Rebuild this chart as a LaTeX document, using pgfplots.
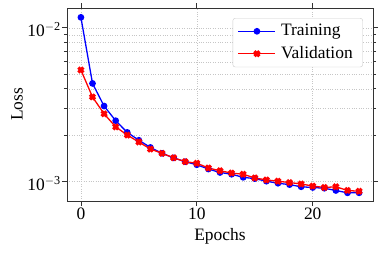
\documentclass[border=0pt]{standalone}
\usepackage{fontspec}
\setmainfont{Liberation Serif}
\usepackage{pgfplots}
\pgfplotsset{compat=1.18}
\pgfdeclareplotmark{Xf}{%
  \pgftransformrotate{45}%
  \pgfpathmoveto{\pgfqpoint{0.38\pgfplotmarksize}{1.15\pgfplotmarksize}}%
  \pgfpathlineto{\pgfqpoint{0.38\pgfplotmarksize}{0.38\pgfplotmarksize}}%
  \pgfpathlineto{\pgfqpoint{1.15\pgfplotmarksize}{0.38\pgfplotmarksize}}%
  \pgfpathlineto{\pgfqpoint{1.15\pgfplotmarksize}{-0.38\pgfplotmarksize}}%
  \pgfpathlineto{\pgfqpoint{0.38\pgfplotmarksize}{-0.38\pgfplotmarksize}}%
  \pgfpathlineto{\pgfqpoint{0.38\pgfplotmarksize}{-1.15\pgfplotmarksize}}%
  \pgfpathlineto{\pgfqpoint{-0.38\pgfplotmarksize}{-1.15\pgfplotmarksize}}%
  \pgfpathlineto{\pgfqpoint{-0.38\pgfplotmarksize}{-0.38\pgfplotmarksize}}%
  \pgfpathlineto{\pgfqpoint{-1.15\pgfplotmarksize}{-0.38\pgfplotmarksize}}%
  \pgfpathlineto{\pgfqpoint{-1.15\pgfplotmarksize}{0.38\pgfplotmarksize}}%
  \pgfpathlineto{\pgfqpoint{-0.38\pgfplotmarksize}{0.38\pgfplotmarksize}}%
  \pgfpathlineto{\pgfqpoint{-0.38\pgfplotmarksize}{1.15\pgfplotmarksize}}%
  \pgfpathclose
  \pgfusepathqfillstroke}
\begin{document}
\fontsize{17.5}{21}\selectfont
\begin{tikzpicture}
\begin{axis}[
  scale only axis, width=306bp, height=193bp,
  ymode=log,
  xmin=-1.2, xmax=25.2,
  ymin=0.000743, ymax=0.01346,
  xtick={0,10,20},
  xticklabels={0,10,20},
  ytick={0.001,0.01},
  yticklabels={10\textsuperscript{$-$3},10\textsuperscript{$-$2}},
  yticklabel style={inner sep=1bp, yshift=-2bp},
  xticklabel style={inner sep=1.5bp},
  tick align=outside,
  major tick length=5bp, minor tick length=3bp,
  tick style={black!80, line width=0.8pt},
  axis line style={black!80, line width=0.9pt},
  grid=both,
  major grid style={gray!45, dotted, line width=0.6pt},
  minor grid style={gray!45, dotted, line width=0.6pt},
  xminorgrids=false,
  xlabel={Epochs}, ylabel={Loss},
  xlabel style={at={(rel axis cs:0.5,0)}, anchor=center, yshift=-35bp},
  ylabel style={at={(rel axis cs:0,0.5)}, anchor=center, yshift=50bp},
  legend style={at={(0.967,0.948)}, anchor=north east, draw=gray!40, rounded corners=2.5pt,
    row sep=4pt, inner xsep=5pt, inner ysep=4pt,
    nodes={inner xsep=5pt}},
  legend cell align=left,
  legend image code/.code={\draw[mark repeat=2,mark phase=2] plot coordinates {(0bp,0bp)(18.5bp,0bp)(37bp,0bp)};},
]
\addplot[blue, line width=1.3pt, mark=*, mark size=2.7pt, mark options={solid, fill=blue}] coordinates {
(0,0.0117) (1,0.00434) (2,0.00309) (3,0.00248) (4,0.00208) (5,0.00185) (6,0.00166)
(7,0.00152) (8,0.00142) (9,0.00134) (10,0.00128) (11,0.00120) (12,0.00114) (13,0.00111)
(14,0.00106) (15,0.00104) (16,0.00100) (17,0.00097) (18,0.00095) (19,0.00092) (20,0.00091)
(21,0.00090) (22,0.00087) (23,0.00084) (24,0.00084)};
\addlegendentry{Training}
\addplot[red, line width=1.3pt, mark=Xf, mark size=2.5pt, mark options={solid, fill=red}] coordinates {
(0,0.00531) (1,0.00354) (2,0.00275) (3,0.00226) (4,0.00200) (5,0.00180) (6,0.00162)
(7,0.00152) (8,0.00142) (9,0.00134) (10,0.00131) (11,0.00122) (12,0.00117) (13,0.00113)
(14,0.00111) (15,0.00105) (16,0.00102) (17,0.00100) (18,0.00098) (19,0.00096) (20,0.00093)
(21,0.00091) (22,0.00092) (23,0.00087) (24,0.00086)};
\addlegendentry{Validation}
\end{axis}
\pgfresetboundingbox
\path[use as bounding box] ([shift={(-67bp,-53bp)}]current axis.south west) rectangle ([shift={(9bp,8bp)}]current axis.north east);
\end{tikzpicture}
\end{document}
